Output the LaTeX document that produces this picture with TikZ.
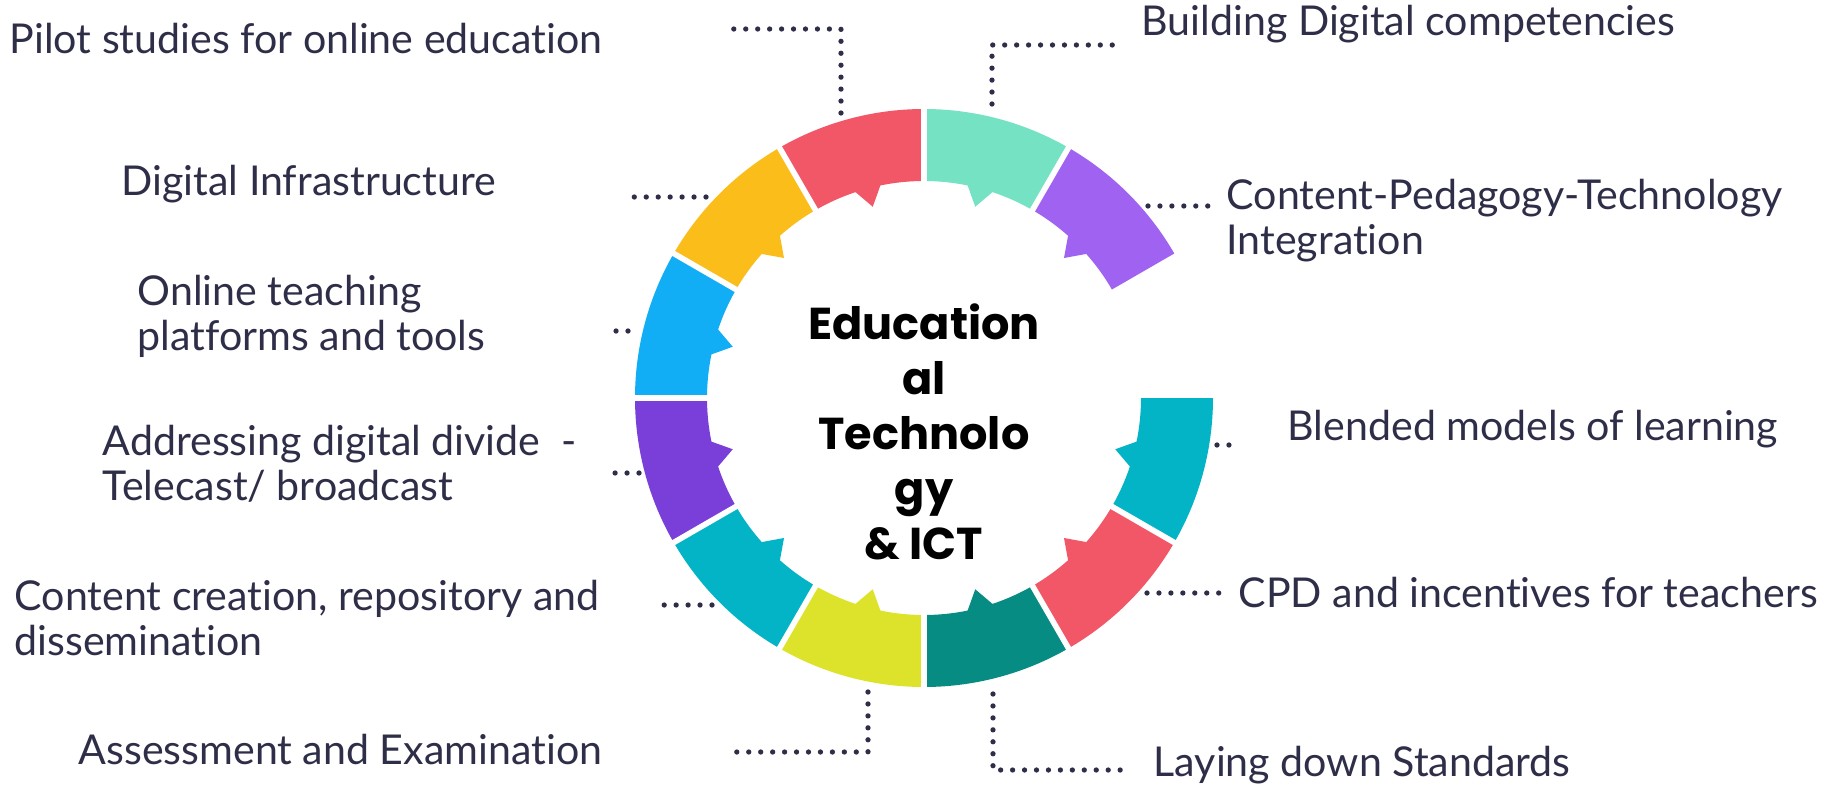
\documentclass[tikz,border=0pt]{standalone}
\usepackage{fontspec}
\setmainfont{Lato}[Ligatures=NoCommon]
\newfontfamily\hubfont{Poppins}
\definecolor{inkblue}{RGB}{46,46,72}
\definecolor{segmint}{RGB}{118,226,196}
\definecolor{segviolet}{RGB}{160,98,240}
\definecolor{segteal}{RGB}{3,180,198}
\definecolor{segcoral}{RGB}{242,87,103}
\definecolor{segdeep}{RGB}{7,140,131}
\definecolor{seglime}{RGB}{220,227,42}
\definecolor{segpurple}{RGB}{122,63,216}
\definecolor{segsky}{RGB}{18,174,245}
\definecolor{segamber}{RGB}{251,189,26}
\tikzset{
  label/.style={text=inkblue, font=\fontsize{11.7}{12.8}\selectfont, align=left, anchor=west, inner sep=0pt},
  dots/.style={draw=inkblue, line width=1.5pt, line cap=round, dash pattern=on 0pt off 3.4pt}
}
\begin{document}
\begin{tikzpicture}
  \useasboundingbox (0,0) rectangle (18.35,7.84);
  \fill [white] (0,0) rectangle (18.35,7.84);
  \begin{scope}[shift={(9.24,3.86)}]
    \foreach \s/\col in {90/segmint, 60/segviolet, 0/segteal, -30/segcoral,
        -60/segdeep, -90/seglime, -120/segteal, -150/segpurple,
        180/segsky, 150/segamber, 120/segcoral} {
      \pgfmathsetmacro\e{\s-30}
      \pgfmathsetmacro\m{\s-15}
      \fill [\col] (\s:2.89) arc [start angle=\s, end angle=\e, radius=2.89]
        -- (\e:2.17) arc [start angle=\e, end angle=\m-3.4, radius=2.17]
        -- (\m:1.98) -- (\m+3.4:2.17)
        arc [start angle=\m+3.4, end angle=\s, radius=2.17] -- cycle;
    }
    \foreach \b in {90,60,-30,-60,-90,-120,-150,180,150,120}
      \draw [white, line width=1.6pt] (\b:1.9) -- (\b:3.0);
  \end{scope}
  \node (hub) [font=\hubfont\bfseries\fontsize{12.7}{15.6}\selectfont, align=center]
    at (9.24,3.52) {Education\\al\\Technolo\\gy\\\& ICT};

  % labels
  \node (pilot) [label] at (0.09,7.45) {Pilot studies for online education};
  \node (build) [label] at (11.41,7.60) {Building Digital competencies};
  \node (infra) [label] at (1.21,6.00) {Digital Infrastructure};
  \node (cpt) [label] at (12.26,5.635) {Content-Pedagogy-Technology\\Integration};
  \node (tools) [label] at (1.37,4.675) {Online teaching\\platforms and tools};
  \node (blend) [label] at (12.87,3.55) {Blended models of learning};
  \node (divide) [label] at (1.02,3.20) {Addressing digital divide\ \ -\\Telecast/ broadcast};
  \node (cpd) [label] at (12.38,1.91) {CPD and incentives for teachers};
  \node (repo) [label] at (0.14,1.66) {Content creation, repository and\\dissemination};
  \node (exam) [label] at (0.78,0.34) {Assessment and Examination};
  \node (std) [label] at (11.53,0.19) {Laying down Standards};

  % dotted leaders
  \coordinate (pilot1) at (8.41,6.71);
  \coordinate (pilot2) at (7.23,7.55);
  \draw [dots] (pilot1) |- (pilot2);
  \coordinate (build1) at (9.92,6.80);
  \coordinate (build2) at (11.13,7.39);
  \draw [dots] (build1) |- (build2);
  \coordinate (infra1) at (7.06,5.87);
  \coordinate (infra2) at (6.28,5.87);
  \draw [dots] (infra1) -- (infra2);
  \coordinate (cpt1) at (11.48,5.78);
  \coordinate (cpt2) at (12.10,5.78);
  \draw [dots] (cpt1) -- (cpt2);
  \coordinate (tools1) at (6.28,4.53);
  \coordinate (tools2) at (6.05,4.53);
  \draw [dots] (tools1) -- (tools2);
  \coordinate (blend1) at (12.17,3.39);
  \coordinate (blend2) at (12.31,3.39);
  \draw [dots] (blend1) -- (blend2);
  \coordinate (divide1) at (6.39,3.11);
  \coordinate (divide2) at (6.12,3.11);
  \draw [dots] (divide1) -- (divide2);
  \coordinate (cpd1) at (11.47,1.91);
  \coordinate (cpd2) at (12.23,1.91);
  \draw [dots] (cpd1) -- (cpd2);
  \coordinate (repo1) at (7.12,1.79);
  \coordinate (repo2) at (6.58,1.79);
  \draw [dots] (repo1) -- (repo2);
  \coordinate (exam1) at (8.68,0.92);
  \coordinate (exam2) at (7.35,0.32);
  \draw [dots] (exam1) |- (exam2);
  \coordinate (std1) at (9.93,0.90);
  \coordinate (std2) at (11.22,0.14);
  \draw [dots] (std1) |- (std2);
\end{tikzpicture}
\end{document}
